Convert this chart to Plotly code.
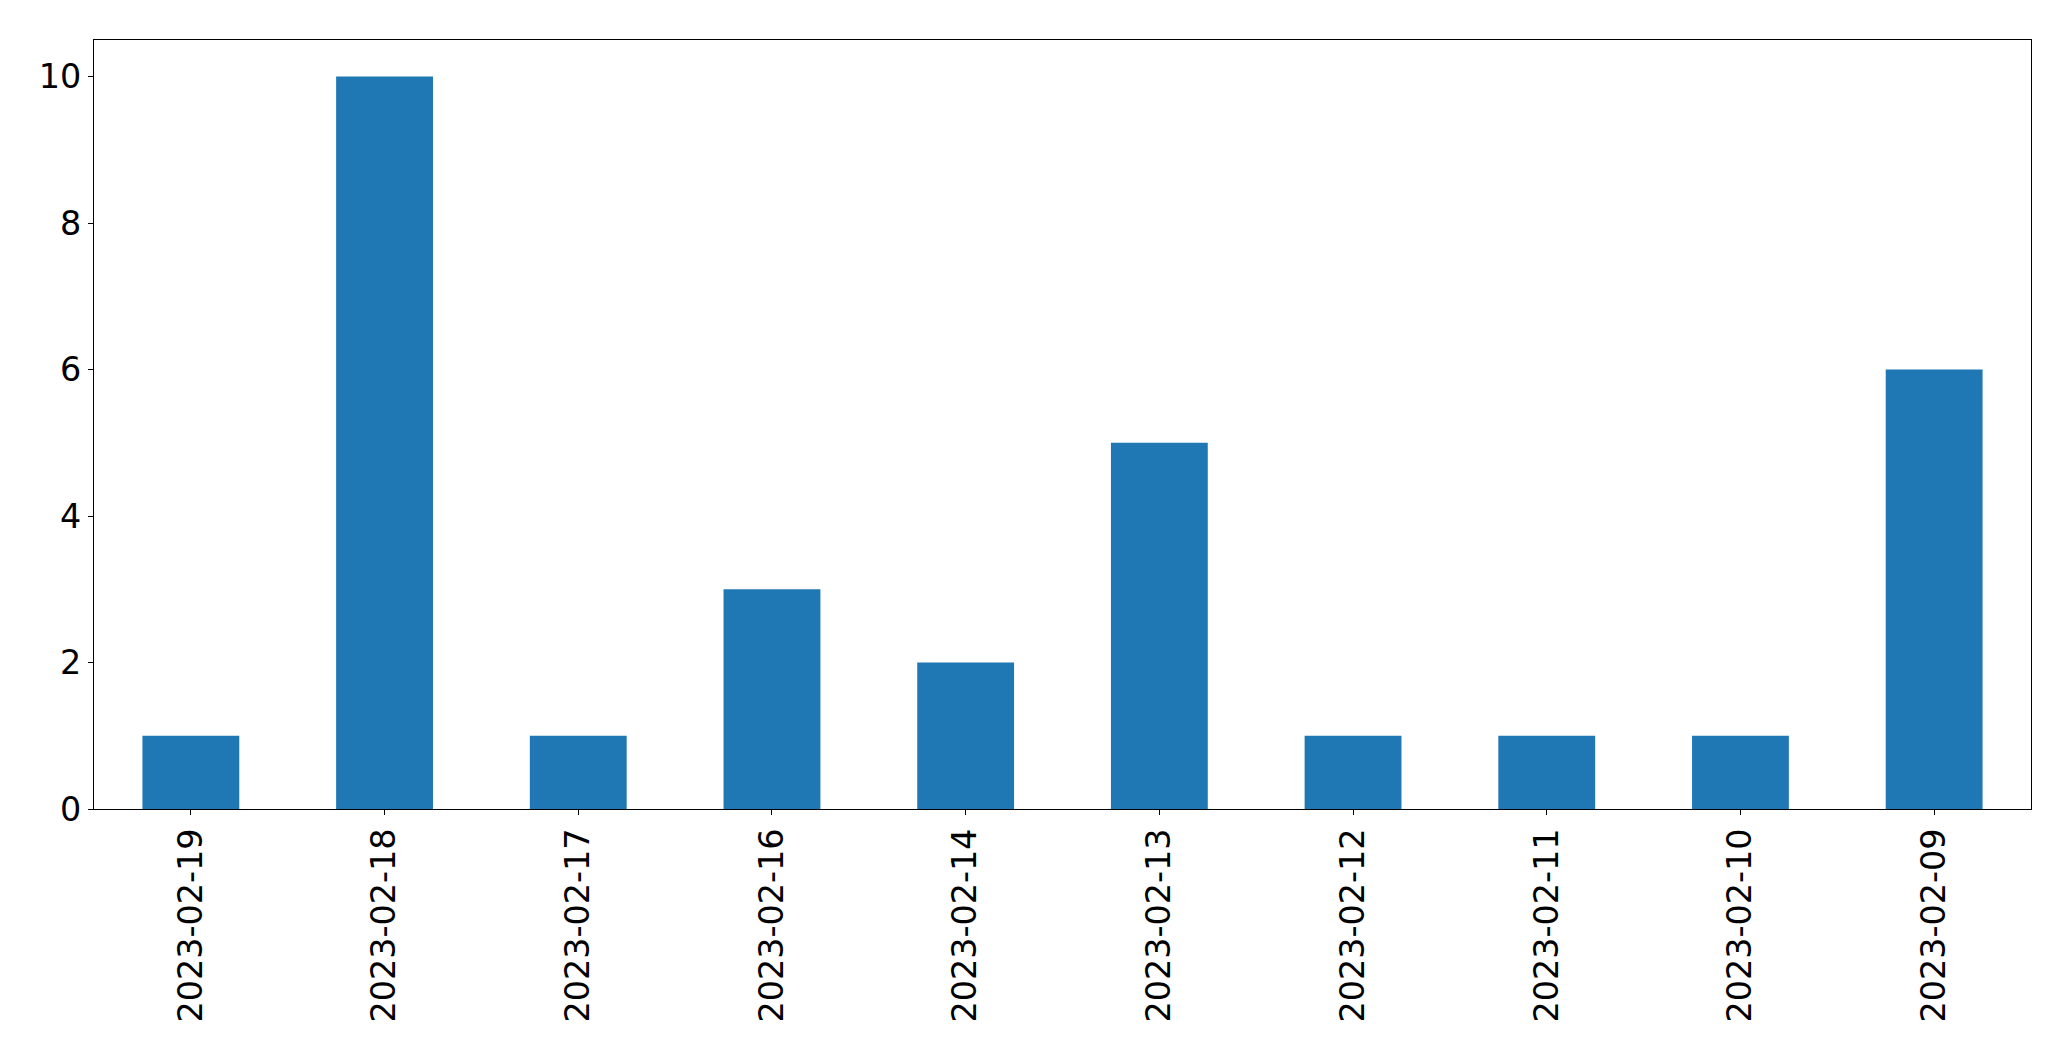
import plotly.graph_objects as go

categories = ["2023-02-19", "2023-02-18", "2023-02-17", "2023-02-16", "2023-02-14",
              "2023-02-13", "2023-02-12", "2023-02-11", "2023-02-10", "2023-02-09"]
values = [1, 10, 1, 3, 2, 5, 1, 1, 1, 6]

fig = go.Figure(go.Bar(x=categories, y=values, marker_color="#1f77b4",
                       marker_line_width=0, width=0.5))

font = dict(family="DejaVu Sans", size=33.4, color="black")
fig.update_layout(
    width=2071, height=1061,
    margin=dict(l=94, r=40, t=40, b=252, autoexpand=False),
    plot_bgcolor="white", paper_bgcolor="white",
    showlegend=False, bargap=0.5,
    font=font,
)
fig.update_xaxes(type="category", range=[-0.5, 9.5], tickangle=-90,
                 showline=True, mirror=True, linecolor="black", linewidth=1.3,
                 ticks="outside", ticklen=5, tickwidth=1.2, tickcolor="black",
                 showgrid=False, tickfont=font, ticklabelstandoff=0)
fig.update_yaxes(range=[0, 10.5], dtick=2, tick0=0,
                 showline=True, mirror=True, linecolor="black", linewidth=1.3,
                 ticks="outside", ticklen=5, tickwidth=1.2, tickcolor="black",
                 showgrid=False, zeroline=False, tickfont=font, ticklabelstandoff=0)

fig.write_html("out.html", config={"displayModeBar": False},
               post_script="document.body.style.margin='0';")
